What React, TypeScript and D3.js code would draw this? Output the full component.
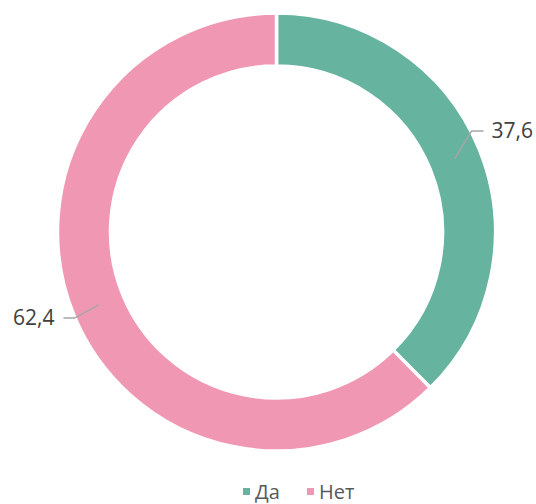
import React from 'react';
import * as d3 from 'd3';

const categories = ['Да', 'Нет'];
const values = [37.6, 62.4];
const labels = ['37,6', '62,4'];
const colors = ['#66b3a0', '#f097b3'];

const W = 536;
const H = 504;

export default function App() {
  const cx = 276.5;
  const cy = 232;
  const outer = 219;
  const inner = 166;

  const pie = d3.pie<number>().sort(null).value(d => d);
  const arcs = pie(values);
  const arcGen = d3.arc<d3.PieArcDatum<number>>().innerRadius(inner).outerRadius(outer);
  const midArc = d3.arc<d3.PieArcDatum<number>>().innerRadius((inner + outer) / 2).outerRadius((inner + outer) / 2);

  return (
    <svg width={W} height={H} style={{ position: 'absolute', left: 0, top: 0, fontFamily: '"Open Sans", sans-serif' }}>
      <g transform={`translate(${cx},${cy})`}>
        {arcs.map((a, i) => (
          <path key={i} d={arcGen(a) || ''} fill={colors[i]} stroke="#fff" strokeWidth={3.5} />
        ))}
        {arcs.map((a, i) => {
          const [x0, y0] = midArc.centroid(a);
          const right = x0 > 0;
          const ex = right ? x0 + 17 : x0 - 24;
          const ey = right ? y0 - 28 : y0 + 13;
          const hx = right ? ex + 12 : ex - 11;
          return (
            <g key={'l' + i}>
              <polyline points={`${x0},${y0} ${ex},${ey} ${hx},${ey}`} fill="none" stroke="#a6a6a6" strokeWidth={1.5} />
              <text x={right ? hx + 8 : hx - 9} y={ey} dy="0.35em" textAnchor={right ? 'start' : 'end'} fontSize={21} fill="#404040">
                {labels[i]}
              </text>
            </g>
          );
        })}
      </g>
      <g transform="translate(0,499)">
        {categories.map((c, i) => {
          const x = i === 0 ? 243 : 307;
          return (
            <g key={c}>
              <rect x={x} y={-11} width={7} height={7} fill={colors[i]} />
              <text x={x + 12} y={0} fontSize={20} fill="#595959">{c}</text>
            </g>
          );
        })}
      </g>
    </svg>
  );
}
